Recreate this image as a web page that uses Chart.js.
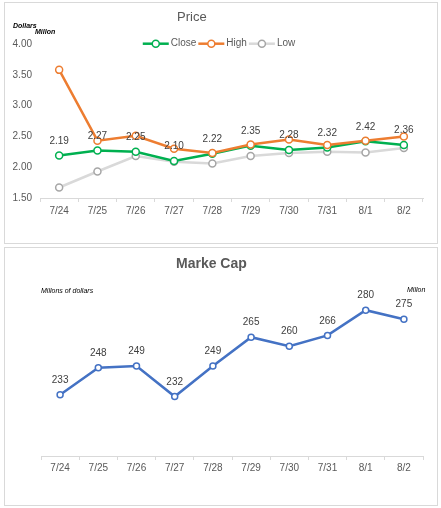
<!DOCTYPE html>
<html><head><meta charset="utf-8">
<script src="https://cdn.jsdelivr.net/npm/chart.js@4"></script>
<style>
html,body{margin:0;padding:0;background:#fff;width:441px;height:508px;overflow:hidden;font-family:"Liberation Sans",Arial,sans-serif;}
.box{position:absolute;left:4px;width:432px;border:1px solid #d9d9d9;background:#fff;}
#box1{top:2px;height:240px;}
#box2{top:247px;height:257px;}
canvas{position:absolute;left:0;top:0;}
.t{position:absolute;white-space:nowrap;color:#595959;line-height:1;}
.u{position:absolute;white-space:nowrap;color:#000;font-style:italic;font-weight:bold;font-size:7px;line-height:1;}
</style></head><body>
<div class="box" id="box1">
  <canvas id="c1" width="432" height="240"></canvas>
  <div class="t" id="title1" style="font-size:13px;left:172px;top:7px;">Price</div>
  <div class="u" style="left:8px;top:19px;">Dollars</div>
  <div class="u" style="left:30px;top:25px;">Millon</div>
</div>
<div class="box" id="box2">
  <canvas id="c2" width="432" height="257"></canvas>
  <div class="t" style="font-size:14px;font-weight:bold;left:171px;top:8px;">Marke Cap</div>
  <div class="u" style="left:36px;top:39px;font-weight:normal;">Millons of dollars</div>
  <div class="u" style="left:402px;top:38px;font-weight:normal;">Millon</div>
</div>
<script>
const categories = ['7/24','7/25','7/26','7/27','7/28','7/29','7/30','7/31','8/1','8/2'];
const closePrice = [2.19, 2.27, 2.25, 2.10, 2.22, 2.35, 2.28, 2.32, 2.42, 2.36];
const highPrice  = [3.58, 2.43, 2.51, 2.30, 2.23, 2.37, 2.45, 2.36, 2.43, 2.50];
const lowPrice   = [1.67, 1.93, 2.18, 2.09, 2.06, 2.18, 2.23, 2.25, 2.24, 2.31];
const marketCap  = [233, 248, 249, 232, 249, 265, 260, 266, 280, 275];
const priceTicks = [1.5, 2.0, 2.5, 3.0, 3.5, 4.0];

const FONT = '"Liberation Sans", Arial, sans-serif';
const TICK = '#595959';

const dataLabels = {
  id: 'dataLabels',
  afterDatasetsDraw(chart, args, opts) {
    const ctx = chart.ctx;
    const meta = chart.getDatasetMeta(opts.index);
    const data = chart.data.datasets[opts.index].data;
    ctx.save();
    ctx.font = '10px ' + FONT;
    ctx.fillStyle = '#404040';
    ctx.textAlign = 'center';
    ctx.textBaseline = 'middle';
    meta.data.forEach((pt, i) => {
      ctx.fillText(opts.fmt(data[i]), pt.x, pt.y - opts.offset);
    });
    ctx.restore();
  }
};

const lineLegend = {
  id: 'lineLegend',
  afterDraw(chart, args, opts) {
    if (!opts.show) return;
    const ctx = chart.ctx;
    ctx.save();
    ctx.font = '10px ' + FONT;
    ctx.textBaseline = 'middle';
    const items = opts.order.map(i => chart.data.datasets[i]);
    const lineW = 26, gap = 2;
    let total = 0;
    items.forEach(d => { total += lineW + gap + ctx.measureText(d.label).width + gap; });
    let x = opts.cx - total / 2;
    const y = opts.y;
    items.forEach(d => {
      ctx.strokeStyle = d.borderColor;
      ctx.lineWidth = d.borderWidth;
      ctx.beginPath(); ctx.moveTo(x, y); ctx.lineTo(x + lineW, y); ctx.stroke();
      ctx.beginPath(); ctx.arc(x + lineW / 2, y, d.pointRadius, 0, Math.PI * 2);
      ctx.fillStyle = '#fff'; ctx.fill();
      ctx.lineWidth = d.pointBorderWidth; ctx.strokeStyle = d.pointBorderColor; ctx.stroke();
      x += lineW + gap;
      ctx.fillStyle = TICK;
      ctx.fillText(d.label, x, y);
      x += ctx.measureText(d.label).width + gap;
    });
    ctx.restore();
  }
};

function ds(label, data, color, ptColor, order) {
  return {
    label, data, order,
    borderColor: color, borderWidth: 2.5,
    pointRadius: 3.5, pointBorderWidth: 1.5,
    pointBackgroundColor: '#fff', pointBorderColor: ptColor,
    tension: 0, fill: false
  };
}

new Chart(document.getElementById('c1'), {
  type: 'line',
  data: {
    labels: categories,
    datasets: [
      ds('Close', closePrice, '#00b050', '#00b050', 1),
      ds('High', highPrice, '#ed7d31', '#ed7d31', 0),
      ds('Low', lowPrice, '#d9d9d9', '#a6a6a6', 2)
    ]
  },
  options: {
    responsive: false, animation: false, devicePixelRatio: 1,
    layout: { padding: { left: 0, right: 14, top: 41, bottom: 15 } },
    plugins: {
      legend: { display: false }, tooltip: { enabled: false }, title: { display: false },
      dataLabels: { index: 0, offset: 14.5, fmt: v => v.toFixed(2) },
      lineLegend: { show: true, order: [0, 1, 2], cx: 215, y: 40.7 }
    },
    scales: {
      x: {
        offset: true,
        grid: { display: true, drawOnChartArea: false, drawTicks: true, tickLength: 4, color: '#d9d9d9', offset: true },
        border: { display: true, color: '#d9d9d9', width: 1 },
        ticks: { font: { size: 10, family: FONT }, color: TICK, padding: 3, maxRotation: 0, autoSkip: false },
        afterFit: s => { s.height = 30; }
      },
      y: {
        min: priceTicks[0], max: priceTicks[priceTicks.length - 1],
        afterBuildTicks: s => { s.ticks = priceTicks.map(v => ({ value: v })); },
        ticks: { font: { size: 10, family: FONT }, color: TICK, padding: 8, callback: v => Number(v).toFixed(2) },
        grid: { display: false, drawTicks: false },
        border: { display: false },
        afterFit: s => { s.width = 35; }
      }
    }
  },
  plugins: [dataLabels, lineLegend]
});

const mc = ds('Market Cap', marketCap, '#4472c4', '#4472c4', 0);
mc.pointRadius = 3;
new Chart(document.getElementById('c2'), {
  type: 'line',
  data: { labels: categories, datasets: [mc] },
  options: {
    responsive: false, animation: false, devicePixelRatio: 1,
    layout: { padding: { left: 36, right: 14, top: 28, bottom: 19 } },
    plugins: {
      legend: { display: false }, tooltip: { enabled: false }, title: { display: false },
      dataLabels: { index: 0, offset: 14.5, fmt: v => String(v) },
      lineLegend: { show: false }
    },
    scales: {
      x: {
        offset: true,
        grid: { display: true, drawOnChartArea: false, drawTicks: true, tickLength: 4, color: '#d9d9d9', offset: true },
        border: { display: true, color: '#d9d9d9', width: 1 },
        ticks: { font: { size: 10, family: FONT }, color: TICK, padding: 2, maxRotation: 0, autoSkip: false },
        afterFit: s => { s.height = 30; }
      },
      y: { display: false, min: 199, max: 299 }
    }
  },
  plugins: [dataLabels, lineLegend]
});
</script>
</body></html>
